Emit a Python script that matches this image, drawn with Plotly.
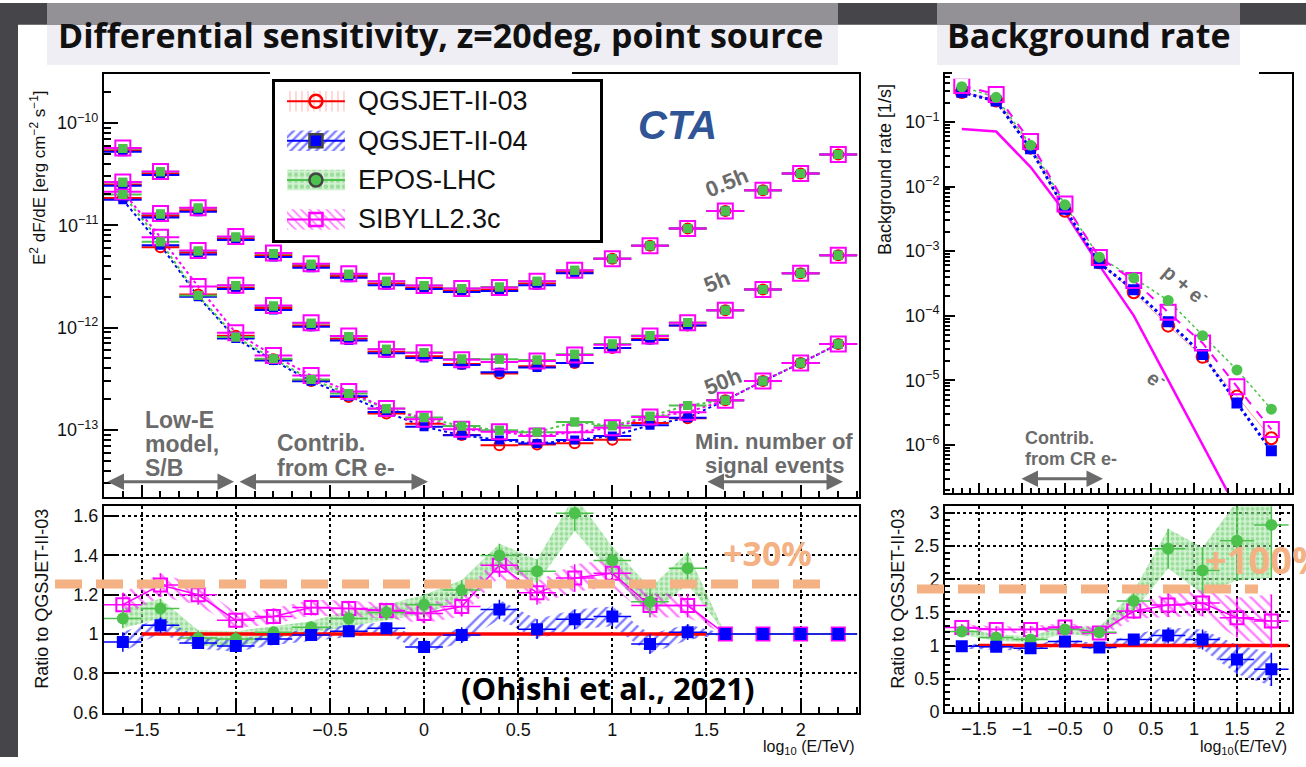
import plotly.graph_objects as go

W, H = 1306, 767

# ---------------- data ----------------
# differential sensitivity: energy bin centres, log10(E/TeV)
sens_x = [-1.6, -1.4, -1.2, -1.0, -0.8, -0.6, -0.4, -0.2, 0.0, 0.2,
          0.4, 0.6, 0.8, 1.0, 1.2, 1.4, 1.6, 1.8, 2.0, 2.2]

# QGSJET-II-03 sensitivity, E^2 dF/dE [erg cm^-2 s^-1]
q03_05h = [5.4e-11, 3.2e-11, 1.4e-11, 7.4e-12, 5.1e-12, 4.0e-12, 3.2e-12, 2.7e-12, 2.45e-12, 2.3e-12,
           2.35e-12, 2.7e-12, 3.5e-12, 4.7e-12, 6.3e-12, 9.3e-12, 1.38e-11, 2.2e-11, 3.2e-11, 4.9e-11]
q03_5h = [2.5e-11, 1.23e-11, 5.4e-12, 2.45e-12, 1.55e-12, 1.05e-12, 7.8e-13, 5.8e-13, 5.25e-13, 4.4e-13,
          3.55e-13, 4.2e-13, 4.5e-13, 6.3e-13, 7.8e-13, 1.05e-12, 1.48e-12, 2.35e-12, 3.4e-12, 5.1e-12]
q03_50h = [1.85e-11, 6.1e-12, 2.1e-12, 8.3e-13, 4.9e-13, 3.0e-13, 2.1e-13, 1.45e-13, 1.15e-13, 8.9e-14,
           7.1e-14, 7.2e-14, 7.4e-14, 8.0e-14, 1.17e-13, 1.3e-13, 1.95e-13, 3.0e-13, 4.5e-13, 6.9e-13]

# model / QGSJET-II-03 ratios, 0.5 h
q04_05h = [0.97, 0.97, 0.97, 0.97, 0.96, 0.96, 0.96, 0.96, 0.97, 0.97, 0.97, 0.96, 0.97, 1, 1, 1, 1, 1, 1, 1]
epos_05h = [1.04, 1.04, 1.05, 1.04, 1.04, 1.04, 1.04, 1.05, 1.05, 1.05, 1.06, 1.05, 1.04, 1, 1, 1, 1, 1, 1, 1]
sib_05h = [1.05, 1.05, 1.06, 1.05, 1.05, 1.05, 1.05, 1.05, 1.05, 1.05, 1.05, 1.05, 1.04, 1, 1, 1, 1, 1, 1, 1]
# 5 h
q04_5h = [0.97, 0.97, 0.96, 0.97, 0.96, 0.97, 0.96, 0.97, 0.96, 0.98, 1.03, 0.97, 1.0, 1.0, 0.97, 1.0, 1, 1, 1, 1]
epos_5h = [1.05, 1.05, 1.04, 1.05, 1.05, 1.05, 1.05, 1.06, 1.09, 1.12, 1.38, 1.15, 1.22, 1.1, 1.07, 1.07, 1, 1, 1, 1]
sib_5h = [1.06, 1.06, 1.05, 1.06, 1.06, 1.06, 1.06, 1.06, 1.08, 1.1, 1.3, 1.12, 1.2, 1.08, 1.06, 1.06, 1, 1, 1, 1]
# 50 h (shown in the ratio pad)
ratio_q04 = [0.96, 1.045, 0.955, 0.94, 0.975, 0.995, 1.015, 1.03, 0.935, 0.995,
             1.125, 1.025, 1.075, 1.09, 0.95, 1.01, 1, 1, 1, 1]
ratio_epos = [1.08, 1.13, 0.98, 0.975, 1.01, 1.035, 1.08, 1.11, 1.15, 1.225,
              1.40, 1.32, 1.615, 1.375, 1.165, 1.335, 1, 1, 1, 1]
ratio_sib = [1.15, 1.25, 1.20, 1.07, 1.09, 1.135, 1.13, 1.12, 1.105, 1.14,
             1.35, 1.21, 1.285, 1.31, 1.145, 1.145, 1, 1, 1, 1]
err_q04 = [0.05, 0.04, 0.03, 0.03, 0.03, 0.03, 0.03, 0.03, 0.03, 0.04,
           0.05, 0.05, 0.05, 0.05, 0.05, 0.04, 0, 0, 0, 0]
err_epos = [0.05, 0.05, 0.04, 0.04, 0.03, 0.03, 0.04, 0.04, 0.05, 0.05,
            0.06, 0.06, 0.09, 0.07, 0.07, 0.08, 0, 0, 0, 0]
err_sib = [0.06, 0.06, 0.05, 0.04, 0.04, 0.04, 0.04, 0.04, 0.05, 0.05,
           0.06, 0.06, 0.07, 0.07, 0.06, 0.06, 0, 0, 0, 0]

# background rate: energy bin centres and rates [1/s]
bg_x = [-1.7, -1.3, -0.9, -0.5, -0.1, 0.3, 0.7, 1.1, 1.5, 1.9]
rate_q03 = [0.29, 0.215, 0.040, 4.2e-3, 6.7e-4, 2.3e-4, 7.0e-5, 2.3e-5, 5.6e-6, 1.26e-6]
rate_electron = [0.078, 0.071, 0.020, 4.0e-3, 6.0e-4, 1.0e-4, 1.0e-5, 1.0e-6, 1.0e-7, 1.0e-8]
bg_ratio_q04 = [0.99, 0.98, 0.96, 1.06, 0.97, 1.09, 1.15, 1.09, 0.79, 0.64]
bg_ratio_epos = [1.21, 1.12, 1.09, 1.24, 1.20, 1.67, 2.46, 2.13, 2.58, 2.82]
bg_ratio_sib = [1.27, 1.24, 1.24, 1.28, 1.19, 1.52, 1.61, 1.64, 1.42, 1.37]
bg_err_q04 = [0.04, 0.04, 0.04, 0.05, 0.05, 0.08, 0.12, 0.15, 0.22, 0.25]
bg_err_epos = [0.05, 0.05, 0.05, 0.06, 0.08, 0.15, 0.3, 0.35, 0.6, 0.8]
bg_err_sib = [0.05, 0.05, 0.05, 0.06, 0.08, 0.12, 0.18, 0.2, 0.3, 0.4]

model_names = ["QGSJET-II-03", "QGSJET-II-04", "EPOS-LHC", "SIBYLL2.3c"]

# ---------------- styling ----------------
RED, BLUE, GREEN, MAG = "#ff0000", "#0000ff", "#4cc24c", "#ff00ff"
GRAY = "#6b6b6b"
PEACH = "#f4b183"
FONT = "Liberation Sans, Arial, sans-serif"
TITLE_FONT = "Open Sans, Noto Sans, sans-serif"


def px(x):
    return x / W


def py(y):
    return 1 - y / H


def mul(a, b):
    return [u * v for u, v in zip(a, b)]


def band(xs, ys, es):
    up = [y + e for y, e in zip(ys, es)]
    lo = [y - e for y, e in zip(ys, es)]
    return xs + xs[::-1], up + lo[::-1]


def edges_line(xs, half):
    ex, ey = [], []
    for x in xs:
        ex += [x - half, x + half]
        ey += [1, 1]
    return ex, ey


def merged(*ds, **kw):
    out = {}
    for d in ds:
        out.update(d)
    out.update(kw)
    return out


fig = go.Figure()

# ---- upper-left: differential sensitivity ----
durations = [(q03_05h, q04_05h, epos_05h, sib_05h),
             (q03_5h, q04_5h, epos_5h, sib_5h),
             (q03_50h, ratio_q04, ratio_epos, ratio_sib)]
xs3 = sens_x * 3
vals = {"q03": [], "q04": [], "epos": [], "sib": []}
for base, rq04, repos, rsib in durations:
    vals["q03"] += base
    vals["q04"] += mul(base, rq04)
    vals["epos"] += mul(base, repos)
    vals["sib"] += mul(base, rsib)

# dotted guide lines through the 50 h points
for key, col in [("q04", BLUE), ("epos", GREEN), ("sib", MAG)]:
    fig.add_trace(go.Scatter(x=sens_x, y=vals[key][40:], mode="lines", xaxis="x", yaxis="y",
                             line=dict(color=col, width=2, dash="dot"), showlegend=False,
                             hoverinfo="skip"))

ex = dict(type="constant", value=0.1, width=0, thickness=2)
fig.add_trace(go.Scatter(x=xs3, y=vals["q03"], mode="markers", xaxis="x", yaxis="y",
                         marker=dict(symbol="circle-open", size=10, color=RED, line=dict(width=2)),
                         error_x=merged(ex, color=RED), showlegend=False))
fig.add_trace(go.Scatter(x=xs3, y=vals["q04"], mode="markers", xaxis="x", yaxis="y",
                         marker=dict(symbol="square", size=9, color=BLUE),
                         error_x=merged(ex, color=BLUE), showlegend=False))
fig.add_trace(go.Scatter(x=xs3, y=vals["epos"], mode="markers", xaxis="x", yaxis="y",
                         marker=dict(symbol="square", size=9, color=GREEN),
                         error_x=merged(ex, color=GREEN), showlegend=False))
fig.add_trace(go.Scatter(x=xs3, y=vals["sib"], mode="markers", xaxis="x", yaxis="y",
                         marker=dict(symbol="square-open", size=15, color=MAG, line=dict(width=2)),
                         error_x=merged(ex, color=MAG), showlegend=False))
fig.add_trace(go.Scatter(x=xs3, y=vals["epos"], mode="markers", xaxis="x", yaxis="y",
                         marker=dict(symbol="square", size=9, color=GREEN), showlegend=False))

# ---- lower-left: ratio to QGSJET-II-03 (50 h) ----
GREEN_BG = "rgba(165,228,165,0.5)"
bx, by = band(sens_x, ratio_epos, err_epos)
fig.add_trace(go.Scatter(x=bx, y=by, xaxis="x2", yaxis="y2", mode="lines", fill="toself",
                         line=dict(width=0, color="rgba(0,0,0,0)"), fillcolor=GREEN_BG,
                         fillpattern=dict(shape=".", fgcolor="#66cc66", bgcolor=GREEN_BG,
                                          size=5, solidity=0.45),
                         showlegend=False, hoverinfo="skip"))
bx, by = band(sens_x, ratio_sib, err_sib)
fig.add_trace(go.Scatter(x=bx, y=by, xaxis="x2", yaxis="y2", mode="lines", fill="toself",
                         line=dict(width=0, color="rgba(0,0,0,0)"), fillcolor="rgba(0,0,0,0)",
                         fillpattern=dict(shape="\\", fgcolor=MAG, bgcolor="rgba(0,0,0,0)",
                                          size=8, solidity=0.3),
                         showlegend=False, hoverinfo="skip"))
bx, by = band(sens_x, ratio_q04, err_q04)
fig.add_trace(go.Scatter(x=bx, y=by, xaxis="x2", yaxis="y2", mode="lines", fill="toself",
                         line=dict(width=0, color="rgba(0,0,0,0)"), fillcolor="rgba(0,0,0,0)",
                         fillpattern=dict(shape="/", fgcolor=BLUE, bgcolor="rgba(0,0,0,0)",
                                          size=7, solidity=0.35),
                         showlegend=False, hoverinfo="skip"))
rx, ry = edges_line(sens_x[1:16], 0.1)
fig.add_trace(go.Scatter(x=rx, y=ry, xaxis="x2", yaxis="y2", mode="lines",
                         line=dict(color=RED, width=3.5), showlegend=False, hoverinfo="skip"))
fig.add_trace(go.Scatter(x=sens_x, y=ratio_sib, xaxis="x2", yaxis="y2", mode="lines+markers",
                         line=dict(color=MAG, width=1.5),
                         marker=dict(symbol="square-open", size=13, color=MAG, line=dict(width=2)),
                         error_x=merged(ex, color=MAG, thickness=1.5),
                         error_y=dict(type="data", array=err_sib, width=0, thickness=1.5, color=MAG),
                         showlegend=False))
fig.add_trace(go.Scatter(x=sens_x, y=ratio_epos, xaxis="x2", yaxis="y2", mode="markers",
                         marker=dict(symbol="circle", size=12, color=GREEN),
                         error_x=merged(ex, color=GREEN, thickness=1.5),
                         error_y=dict(type="data", array=err_epos, width=0, thickness=1.5, color=GREEN),
                         showlegend=False))
fig.add_trace(go.Scatter(x=sens_x, y=ratio_q04, xaxis="x2", yaxis="y2", mode="markers",
                         marker=dict(symbol="square", size=12, color=BLUE),
                         error_x=merged(ex, color=BLUE, thickness=1.5),
                         error_y=dict(type="data", array=err_q04, width=0, thickness=1.5, color=BLUE),
                         showlegend=False))

# ---- upper-right: background rate ----
rate_q04 = mul(rate_q03, bg_ratio_q04)
rate_epos = mul(rate_q03, bg_ratio_epos)
rate_sib = mul(rate_q03, bg_ratio_sib)
fig.add_trace(go.Scatter(x=bg_x, y=rate_electron, xaxis="x3", yaxis="y3", mode="lines",
                         line=dict(color=MAG, width=2.5), showlegend=False, hoverinfo="skip"))
fig.add_trace(go.Scatter(x=bg_x, y=rate_q03, xaxis="x3", yaxis="y3", mode="lines",
                         line=dict(color="#ff9a9a", width=1), showlegend=False, hoverinfo="skip"))
fig.add_trace(go.Scatter(x=bg_x, y=rate_q04, xaxis="x3", yaxis="y3", mode="lines",
                         line=dict(color=BLUE, width=3, dash="dot"), showlegend=False, hoverinfo="skip"))
fig.add_trace(go.Scatter(x=bg_x, y=rate_epos, xaxis="x3", yaxis="y3", mode="lines",
                         line=dict(color=GREEN, width=1.5, dash="dot"), showlegend=False, hoverinfo="skip"))
fig.add_trace(go.Scatter(x=bg_x, y=rate_sib, xaxis="x3", yaxis="y3", mode="lines",
                         line=dict(color=MAG, width=2, dash="dash"), showlegend=False, hoverinfo="skip"))
fig.add_trace(go.Scatter(x=bg_x, y=rate_q03, xaxis="x3", yaxis="y3", mode="markers",
                         marker=dict(symbol="circle-open", size=12, color=RED, line=dict(width=2)),
                         showlegend=False))
fig.add_trace(go.Scatter(x=bg_x, y=rate_q04, xaxis="x3", yaxis="y3", mode="markers",
                         marker=dict(symbol="square", size=11, color=BLUE), showlegend=False))
fig.add_trace(go.Scatter(x=bg_x, y=rate_sib, xaxis="x3", yaxis="y3", mode="markers",
                         marker=dict(symbol="square-open", size=15, color=MAG, line=dict(width=2)),
                         showlegend=False))
fig.add_trace(go.Scatter(x=bg_x, y=rate_epos, xaxis="x3", yaxis="y3", mode="markers",
                         marker=dict(symbol="circle", size=11, color=GREEN), showlegend=False))

# ---- lower-right: background ratio ----
bex = dict(type="constant", value=0.2, width=0, thickness=1.5)
bx, by = band(bg_x, bg_ratio_epos, bg_err_epos)
fig.add_trace(go.Scatter(x=bx, y=by, xaxis="x4", yaxis="y4", mode="lines", fill="toself",
                         line=dict(width=0, color="rgba(0,0,0,0)"), fillcolor=GREEN_BG,
                         fillpattern=dict(shape=".", fgcolor="#66cc66", bgcolor=GREEN_BG,
                                          size=5, solidity=0.45),
                         showlegend=False, hoverinfo="skip"))
bx, by = band(bg_x, bg_ratio_sib, bg_err_sib)
fig.add_trace(go.Scatter(x=bx, y=by, xaxis="x4", yaxis="y4", mode="lines", fill="toself",
                         line=dict(width=0, color="rgba(0,0,0,0)"), fillcolor="rgba(0,0,0,0)",
                         fillpattern=dict(shape="\\", fgcolor=MAG, bgcolor="rgba(0,0,0,0)",
                                          size=8, solidity=0.3),
                         showlegend=False, hoverinfo="skip"))
bx, by = band(bg_x, bg_ratio_q04, bg_err_q04)
fig.add_trace(go.Scatter(x=bx, y=by, xaxis="x4", yaxis="y4", mode="lines", fill="toself",
                         line=dict(width=0, color="rgba(0,0,0,0)"), fillcolor="rgba(0,0,0,0)",
                         fillpattern=dict(shape="/", fgcolor=BLUE, bgcolor="rgba(0,0,0,0)",
                                          size=7, solidity=0.35),
                         showlegend=False, hoverinfo="skip"))
rx, ry = edges_line(bg_x[1:], 0.2)
fig.add_trace(go.Scatter(x=rx, y=ry, xaxis="x4", yaxis="y4", mode="lines",
                         line=dict(color=RED, width=3.5), showlegend=False, hoverinfo="skip"))
fig.add_trace(go.Scatter(x=bg_x, y=bg_ratio_sib, xaxis="x4", yaxis="y4", mode="lines+markers",
                         line=dict(color=MAG, width=1.5),
                         marker=dict(symbol="square-open", size=13, color=MAG, line=dict(width=2)),
                         error_x=merged(bex, color=MAG),
                         error_y=dict(type="data", array=bg_err_sib, width=0, thickness=1.5, color=MAG),
                         showlegend=False))
fig.add_trace(go.Scatter(x=bg_x, y=bg_ratio_epos, xaxis="x4", yaxis="y4", mode="markers",
                         marker=dict(symbol="circle", size=12, color=GREEN),
                         error_x=merged(bex, color=GREEN),
                         error_y=dict(type="data", array=bg_err_epos, width=0, thickness=1.5, color=GREEN),
                         showlegend=False))
fig.add_trace(go.Scatter(x=bg_x, y=bg_ratio_q04, xaxis="x4", yaxis="y4", mode="markers",
                         marker=dict(symbol="square", size=12, color=BLUE),
                         error_x=merged(bex, color=BLUE),
                         error_y=dict(type="data", array=bg_err_q04, width=0, thickness=1.5, color=BLUE),
                         showlegend=False))

# ---- legend box (own frame) ----
leg_style = [
    (RED, "|", "#ff7a7a", "circle-open", 0.2),
    (BLUE, "/", BLUE, "square", 0.4),
    (GREEN, ".", "#66cc66", "circle", 0.45),
    (MAG, "\\", MAG, "square-open", 0.3),
]
leg_ann = []
for i, (name, (col, shp, fg, sym, sol)) in enumerate(zip(model_names, leg_style)):
    yc = 0.876 - i * 0.249
    bgc = GREEN_BG if shp == "." else "rgba(0,0,0,0)"
    fig.add_trace(go.Scatter(x=[0.037, 0.215, 0.215, 0.037], y=[yc - 0.065, yc - 0.065, yc + 0.065, yc + 0.065],
                             xaxis="x5", yaxis="y5", mode="lines", fill="toself",
                             line=dict(width=0, color="rgba(0,0,0,0)"), fillcolor=bgc,
                             fillpattern=dict(shape=shp, fgcolor=fg, bgcolor=bgc, size=6, solidity=sol),
                             showlegend=False, hoverinfo="skip"))
    fig.add_trace(go.Scatter(x=[0.037, 0.126, 0.215], y=[yc, yc, yc], xaxis="x5", yaxis="y5",
                             mode="lines", line=dict(color=col, width=2), showlegend=False, hoverinfo="skip"))
    fig.add_trace(go.Scatter(x=[0.126], y=[yc], xaxis="x5", yaxis="y5", mode="markers",
                             marker=dict(symbol=sym, size=13, color=col, line=dict(width=2.5)),
                             showlegend=False, hoverinfo="skip"))
    leg_ann.append(dict(text=name, x=0.25, y=yc, xref="x5", yref="y5", xanchor="left", yanchor="middle",
                        showarrow=False, font=dict(family=FONT, size=27, color="#111")))

# ---------------- axes ----------------
tickfont = dict(family=FONT, size=18, color="#111")
base_ax = dict(showline=True, linecolor="black", linewidth=2, mirror=True, ticks="inside",
               tickcolor="black", tickwidth=2, zeroline=False, showgrid=False, tickfont=tickfont)
grid = dict(showgrid=True, gridcolor="black", griddash="dot", gridwidth=1.5)


def minor_lin(step, ln):
    return dict(dtick=step, ticklen=ln, ticks="inside", tickcolor="black", tickwidth=1.5)


def log_major(lo, hi):
    exps = list(range(lo, hi + 1))
    return dict(tickmode="array", tickvals=[10.0 ** e for e in exps],
                ticktext=["10<sup>\u2212%d</sup>" % (-e) for e in exps])


def log_minor(lo, hi, ln):
    vals_ = []
    for d in range(lo, hi):
        for m in range(2, 10):
            vals_.append(m * 10.0 ** d)
    return dict(tickmode="array", tickvals=vals_, ticklen=ln, ticks="inside", tickcolor="black",
                tickwidth=1.5)


LX = [px(104), px(859)]
RX = [px(945), px(1292)]
fig.update_layout(
    width=W, height=H, margin=dict(l=0, r=0, t=0, b=0),
    paper_bgcolor="white", plot_bgcolor="rgba(0,0,0,0)",
    xaxis=merged(base_ax, domain=LX, range=[-1.70, 2.31], dtick=0.5, tick0=0, ticklen=12,
                 minor=minor_lin(0.1, 6), showticklabels=False, anchor="y"),
    yaxis=merged(base_ax, log_major(-13, -10), domain=[py(503), py(72)], type="log",
                 range=[-13.66, -9.52], ticklen=14, minor=log_minor(-14, -9, 7), anchor="x"),
    xaxis2=merged(base_ax, grid, domain=LX, range=[-1.70, 2.31], dtick=0.5, tick0=0, ticklen=12,
                  minor=minor_lin(0.1, 6), anchor="y2"),
    yaxis2=merged(base_ax, grid, domain=[py(722), py(512)], range=[0.6, 1.65], dtick=0.2, tick0=0.6,
                  ticklen=14, anchor="x2"),
    xaxis3=merged(base_ax, domain=RX, range=[-1.895, 2.14], dtick=0.5, tick0=0, ticklen=10,
                  minor=minor_lin(0.1, 5), showticklabels=False, anchor="y3"),
    yaxis3=merged(base_ax, log_major(-6, -1), domain=[py(498), py(72)], type="log",
                  range=[-6.74, -0.254], ticklen=10, minor=log_minor(-7, 0, 5), anchor="x3"),
    xaxis4=merged(base_ax, grid, domain=RX, range=[-1.895, 2.14], dtick=0.5, tick0=0, ticklen=10,
                  minor=minor_lin(0.1, 5), anchor="y4"),
    yaxis4=merged(base_ax, grid, domain=[py(721), py(512)], range=[0, 3.1], dtick=0.5, tick0=0,
                  ticklen=10, minor=minor_lin(0.1, 5), anchor="x4"),
    xaxis5=dict(domain=[px(275), px(600)], range=[0, 1], showline=True, mirror=True, linewidth=2.5,
                linecolor="black", showgrid=False, zeroline=False, showticklabels=False, ticks="",
                anchor="y5", fixedrange=True),
    yaxis5=dict(domain=[py(241), py(80)], range=[0, 1], showline=True, mirror=True, linewidth=2.5,
                linecolor="black", showgrid=False, zeroline=False, showticklabels=False, ticks="",
                anchor="x5", fixedrange=True),
)

# ---------------- page decoration ----------------
DARK, MID, BOX = "#464549", "#939096", "#efeef4"
shapes = [
    dict(type="rect", xref="paper", yref="paper", x0=0, x1=px(18), y0=0, y1=1,
         fillcolor=DARK, line=dict(width=0), layer="below"),
    dict(type="rect", xref="paper", yref="paper", x0=0, x1=1, y0=py(22), y1=1,
         fillcolor=DARK, line=dict(width=0), layer="below"),
    dict(type="rect", xref="paper", yref="paper", x0=px(47), x1=px(838), y0=py(63), y1=py(22),
         fillcolor=BOX, line=dict(width=0), layer="below"),
    dict(type="rect", xref="paper", yref="paper", x0=px(47), x1=px(838), y0=py(22), y1=1,
         fillcolor=MID, line=dict(width=0), layer="below"),
    dict(type="rect", xref="paper", yref="paper", x0=px(937), x1=px(1240), y0=py(63), y1=py(22),
         fillcolor=BOX, line=dict(width=0), layer="below"),
    dict(type="rect", xref="paper", yref="paper", x0=px(937), x1=px(1240), y0=py(22), y1=1,
         fillcolor=MID, line=dict(width=0), layer="below"),
    # white strips over parts of the upper frames
    dict(type="rect", xref="paper", yref="paper", x0=px(270), x1=px(572), y0=py(77), y1=py(64),
         fillcolor="white", line=dict(width=0), layer="above"),
    dict(type="rect", xref="paper", yref="paper", x0=px(952), x1=px(1259), y0=py(77), y1=py(64),
         fillcolor="white", line=dict(width=0), layer="above"),
    # +30% / +100% guide lines
    dict(type="line", xref="paper", yref="paper", x0=px(55), x1=px(828), y0=py(591), y1=py(591),
         line=dict(color=PEACH, width=9, dash="27px,14px"), layer="above"),
    dict(type="line", xref="paper", yref="paper", x0=px(917), x1=px(1258), y0=py(596), y1=py(596),
         line=dict(color=PEACH, width=9, dash="27px,14px"), layer="above"),
]


# pixel -> axis coordinates for annotations
def lx(p):
    return -1.70 + (p - 104) / (859 - 104) * (2.31 + 1.70)


def ly(p):
    return -9.52 - (p - 72) / (503 - 72) * (13.66 - 9.52)


def rx_(p):
    return -1.895 + (p - 945) / (1292 - 945) * (2.14 + 1.895)


def ry_(p):
    return -0.254 - (p - 72) / (498 - 72) * (6.74 - 0.254)


def txt(text, x, y, size, color="#111", family=FONT, xanchor="center", angle=0, yanchor="middle"):
    return dict(text=text, x=x, y=y, xref="paper", yref="paper", xanchor=xanchor, yanchor=yanchor,
                showarrow=False, textangle=angle, font=dict(family=family, size=size, color=color))


ann = []
ann.append(txt("<b>Differential sensitivity, z=20deg, point source</b>", px(56), py(33), 34,
               family=TITLE_FONT, xanchor="left"))
ann.append(txt("<b>Background rate</b>", px(945), py(33), 34, family=TITLE_FONT, xanchor="left"))
ann.append(txt("<b><i>CTA</i></b>", px(677), py(124), 40, color="#2f5597"))
ann.append(txt("<b>0.5h</b>", px(727), py(183), 22, color=GRAY, angle=-22))
ann.append(txt("<b>5h</b>", px(717), py(283), 22, color=GRAY, angle=-22))
ann.append(txt("<b>50h</b>", px(723), py(385), 22, color=GRAY, angle=-22))
for t, y in [("Low-E", 424), ("model,", 449), ("S/B", 473)]:
    ann.append(txt("<b>%s</b>" % t, px(143), py(y), 23, color=GRAY, xanchor="left"))
for t, y in [("Contrib.", 448), ("from CR e-", 473)]:
    ann.append(txt("<b>%s</b>" % t, px(275), py(y), 23, color=GRAY, xanchor="left"))
for t, y in [("Min. number of", 446), ("signal events", 470)]:
    ann.append(txt("<b>%s</b>" % t, px(774), py(y), 22, color=GRAY))
for t, y in [("Contrib.", 442), ("from CR e-", 464)]:
    ann.append(txt("<b>%s</b>" % t, px(1023), py(y), 18, color=GRAY, xanchor="left"))
ann.append(txt("<b>p + e<sup>-</sup></b>", px(1186), py(285), 20, color=GRAY, angle=40))
ann.append(txt("<b>e<sup>-</sup></b>", px(1157), py(382), 20, color=GRAY, angle=40))


def arrow(x0, x1, y, xr, yr):
    return dict(x=x1, y=y, ax=x0, ay=y, xref=xr, yref=yr, axref=xr, ayref=yr, text="",
                showarrow=True, arrowside="end+start", arrowhead=2, startarrowhead=2,
                arrowsize=1.1, startarrowsize=1.1, arrowwidth=3, arrowcolor=GRAY, standoff=0,
                startstandoff=0)


ann.append(arrow(lx(106), lx(234), ly(487), "x", "y"))
ann.append(arrow(lx(238), lx(428), ly(487), "x", "y"))
ann.append(arrow(lx(706), lx(843), ly(487), "x", "y"))
ann.append(arrow(rx_(1020), rx_(1103), ry_(484), "x3", "y3"))

ann.append(txt("<b>+30%</b>", px(721), py(559), 34, color=PEACH, family=TITLE_FONT, xanchor="left"))
ann.append(txt("<b>+100%</b>", px(1203), py(566), 38, color=PEACH, family=TITLE_FONT, xanchor="left"))
ann.append(txt("<b>(Ohishi et al., 2021)</b>", px(607), py(697), 31, color="#000", family=TITLE_FONT))

ann.append(txt("E<sup>2</sup> dF/dE [erg cm<sup>−2</sup> s<sup>−1</sup>]", px(38), py(178), 17, angle=-90))
ann.append(txt("Ratio to QGSJET-II-03", px(42), py(606), 18, angle=-90))
ann.append(txt("Background rate [1/s]", px(885), py(170), 18, angle=-90))
ann.append(txt("Ratio to QGSJET-II-03", px(898), py(606), 18, angle=-90))
ann.append(txt("log<sub>10</sub> (E/TeV)", px(857), py(746), 16, xanchor="right", yanchor="top"))
ann.append(txt("log<sub>10</sub>(E/TeV)", px(1289), py(746), 16, xanchor="right", yanchor="top"))

fig.update_layout(shapes=shapes, annotations=ann + leg_ann)

fig.write_html("out.html")
